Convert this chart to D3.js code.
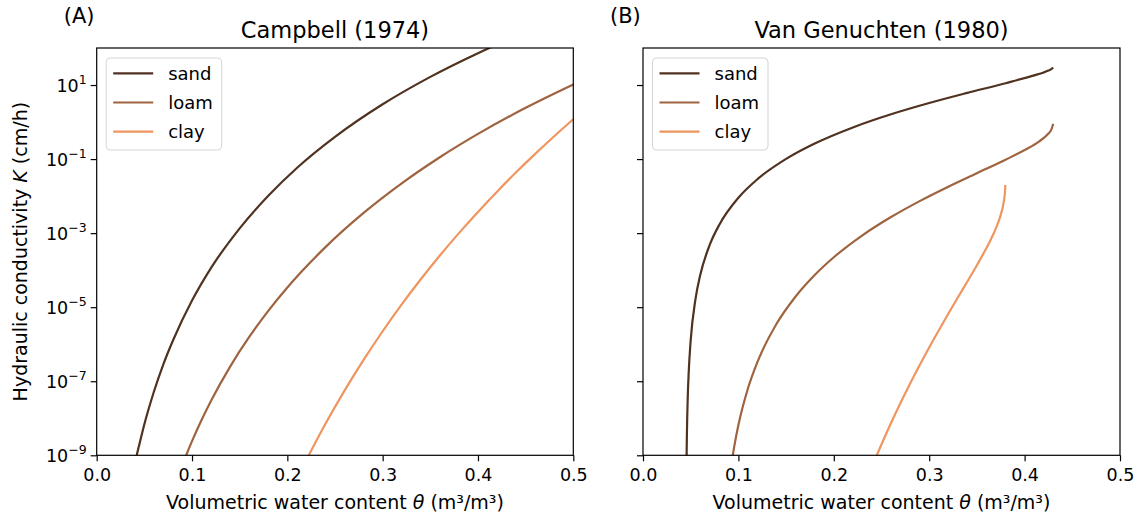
<!DOCTYPE html>
<html>
<head>
<meta charset="utf-8">
<script src="https://cdn.jsdelivr.net/npm/d3@7"></script>
<style>
  body { margin: 0; background: #fff; }
  svg { display: block; font-family: "DejaVu Sans", sans-serif; }
</style>
</head>
<body>
<svg id="chart" width="1145" height="517"></svg>
<script>
// ---- Data: volumetric water content (m3/m3) and hydraulic conductivity (cm/h) ----
const soils = ["sand", "loam", "clay"];

// Campbell (1974)
const campbellSandTheta = [0.040, 0.042, 0.045, 0.050, 0.060, 0.070, 0.080, 0.100, 0.120, 0.150, 0.180, 0.210, 0.250, 0.300, 0.350, 0.400, 0.430];
const campbellSandK     = [5.8e-10, 1.0e-9, 2.1e-9, 6.9e-9, 5.2e-8, 2.9e-7, 1.26e-6, 1.51e-5, 1.15e-4, 1.35e-3, 1.02e-2, 5.75e-2, 0.398, 3.02, 16.6, 72.4, 162];

const campbellLoamTheta = [0.090, 0.0938, 0.100, 0.110, 0.120, 0.140, 0.160, 0.180, 0.200, 0.240, 0.280, 0.320, 0.360, 0.400, 0.450, 0.500];
const campbellLoamK     = [5.65e-10, 1.0e-9, 2.42e-9, 9.0e-9, 2.98e-8, 2.49e-7, 1.57e-6, 7.96e-6, 3.40e-5, 4.19e-4, 3.51e-3, 2.21e-2, 0.112, 0.478, 2.42, 10.35];

const campbellClayTheta = [0.220, 0.2225, 0.240, 0.260, 0.280, 0.300, 0.320, 0.340, 0.360, 0.380, 0.400, 0.420, 0.440, 0.460, 0.480, 0.500];
const campbellClayK     = [7.5e-10, 1.0e-9, 7.1e-9, 5.6e-8, 3.78e-7, 2.24e-6, 1.19e-5, 5.67e-5, 2.48e-4, 1.0e-3, 3.75e-3, 1.32e-2, 4.39e-2, 0.138, 0.414, 1.19];

// Van Genuchten (1980)
const vgSandTheta = [0.0455, 0.0457, 0.046, 0.047, 0.048, 0.050, 0.055, 0.060, 0.070, 0.080, 0.100, 0.120, 0.150, 0.180, 0.220, 0.260, 0.300, 0.340, 0.380, 0.410, 0.420, 0.425, 0.428, 0.430];
const vgSandK     = [2.6e-10, 9.0e-10, 3.4e-9, 4.4e-8, 1.95e-7, 1.29e-6, 1.65e-5, 7.36e-5, 4.87e-4, 1.69e-3, 9.04e-3, 2.87e-2, 0.101, 0.263, 0.716, 1.62, 3.26, 6.13, 11.2, 18.2, 21.9, 24.6, 26.8, 29.7];

const vgLoamTheta = [0.0935, 0.094, 0.096, 0.100, 0.110, 0.120, 0.140, 0.160, 0.180, 0.200, 0.230, 0.260, 0.290, 0.320, 0.350, 0.380, 0.400, 0.415, 0.425, 0.428, 0.430];
const vgLoamK     = [7.8e-10, 9.5e-10, 1.94e-9, 6.55e-9, 6.37e-8, 3.33e-7, 3.56e-6, 1.95e-5, 7.41e-5, 2.23e-4, 8.73e-4, 2.72e-3, 7.33e-3, 1.80e-2, 4.16e-2, 9.62e-2, 0.175, 0.298, 0.489, 0.622, 0.90];

const vgClayTheta = [0.243, 0.245, 0.260, 0.280, 0.300, 0.3113, 0.320, 0.330, 0.340, 0.350, 0.360, 0.365, 0.370, 0.375, 0.3777, 0.379, 0.3797, 0.3798];
const vgClayK     = [7.5e-10, 9.9e-10, 7.45e-9, 8.69e-8, 8.2e-7, 2.71e-6, 6.64e-6, 1.82e-5, 4.93e-5, 1.36e-4, 3.95e-4, 7.08e-4, 1.37e-3, 3.12e-3, 5.97e-3, 9.9e-3, 1.69e-2, 2.0e-2];

// Axis ticks
const xTicks = [0.0, 0.1, 0.2, 0.3, 0.4, 0.5];
const yTickExponents = [-9, -7, -5, -3, -1, 1];

// ---- Styling ----
const soilColors = { sand: "#503220", loam: "#9f643f", clay: "#ef955f" };
const pair = (t, k) => t.map((v, i) => [v, k[i]]);

const panels = [
  {
    letter: "(A)", title: "Campbell (1974)", left: 96.7, right: 573.3, yLabels: true,
    series: { sand: pair(campbellSandTheta, campbellSandK), loam: pair(campbellLoamTheta, campbellLoamK), clay: pair(campbellClayTheta, campbellClayK) }
  },
  {
    letter: "(B)", title: "Van Genuchten (1980)", left: 643, right: 1120, yLabels: false,
    series: { sand: pair(vgSandTheta, vgSandK), loam: pair(vgLoamTheta, vgLoamK), clay: pair(vgClayTheta, vgClayK) }
  }
];

const plotTop = 48, plotBottom = 455.3;
const svg = d3.select("#chart");
svg.append("rect").attr("width", 1145).attr("height", 517).attr("fill", "#fff");

const y = d3.scaleLog().domain([1e-9, 1e2]).range([plotBottom, plotTop]);

panels.forEach((p, pi) => {
  const x = d3.scaleLinear().domain([0, 0.5]).range([p.left, p.right]);
  const g = svg.append("g");
  const clipId = "clip" + pi;
  svg.append("clipPath").attr("id", clipId)
    .append("rect").attr("x", p.left).attr("y", plotTop)
    .attr("width", p.right - p.left).attr("height", plotBottom - plotTop);

  // curves
  const line = d3.line().x(d => x(d[0])).y(d => y(d[1])).curve(d3.curveMonotoneX);
  const curves = g.append("g").attr("clip-path", `url(#${clipId})`);
  soils.forEach(s => {
    curves.append("path").datum(p.series[s])
      .attr("d", line).attr("fill", "none")
      .attr("stroke", soilColors[s]).attr("stroke-width", 2.2)
      .attr("stroke-linejoin", "round").attr("stroke-linecap", "butt");
  });

  // x axis
  const xAxis = g.append("g").attr("transform", `translate(0,${plotBottom})`)
    .call(d3.axisBottom(x).tickValues(xTicks).tickSize(6).tickPadding(7).tickFormat(d3.format(".1f")));
  xAxis.select(".domain").remove();
  xAxis.selectAll(".tick line").attr("stroke", "#000").attr("stroke-width", 1.2);
  xAxis.selectAll(".tick text").attr("font-size", 17.5).attr("fill", "#000")
    .attr("font-family", "DejaVu Sans, sans-serif");

  // y axis
  const yAxis = g.append("g").attr("transform", `translate(${p.left},0)`)
    .call(d3.axisLeft(y).tickValues(yTickExponents.map(e => Math.pow(10, e))).tickSize(6).tickFormat(() => ""));
  yAxis.select(".domain").remove();
  yAxis.selectAll(".tick line").attr("stroke", "#000").attr("stroke-width", 1.2);
  if (p.yLabels) {
    yTickExponents.forEach(e => {
      const t = g.append("text").attr("x", p.left - 10).attr("y", y(Math.pow(10, e)) + 6.5)
        .attr("text-anchor", "end").attr("font-size", 17.5).attr("fill", "#000");
      t.append("tspan").text("10");
      t.append("tspan").attr("font-size", 12.5).attr("dy", -8).text(e < 0 ? "\u2212" + (-e) : String(e));
    });
  }

  // frame
  g.append("rect").attr("x", p.left).attr("y", plotTop)
    .attr("width", p.right - p.left).attr("height", plotBottom - plotTop)
    .attr("fill", "none").attr("stroke", "#000").attr("stroke-width", 1.2);

  const cx = (p.left + p.right) / 2;
  // title and panel letter
  g.append("text").attr("x", cx).attr("y", 37.5).attr("text-anchor", "middle")
    .attr("font-size", 22.5).attr("fill", "#000").text(p.title);
  g.append("text").attr("x", p.left - 33).attr("y", 23).attr("font-size", 21)
    .attr("fill", "#000").text(p.letter);

  // x label
  const xl = g.append("text").attr("x", cx).attr("y", 509).attr("text-anchor", "middle")
    .attr("font-size", 19).attr("fill", "#000");
  xl.append("tspan").text("Volumetric water content ");
  xl.append("tspan").attr("font-style", "italic").text("\u03b8");
  xl.append("tspan").text(" (m\u00b3/m\u00b3)");

  // legend
  const lx = p.left + 9.5, ly = 58;
  const legend = g.append("g");
  legend.append("rect").attr("x", lx).attr("y", ly).attr("width", 115.5).attr("height", 92)
    .attr("rx", 4).attr("fill", "#fff").attr("fill-opacity", 0.8)
    .attr("stroke", "#d5d5d5").attr("stroke-width", 1);
  soils.forEach((s, i) => {
    const yy = ly + 15.3 + i * 29.2;
    legend.append("line").attr("x1", lx + 7).attr("x2", lx + 47).attr("y1", yy).attr("y2", yy)
      .attr("stroke", soilColors[s]).attr("stroke-width", 2.2);
    legend.append("text").attr("x", lx + 62).attr("y", yy + 6.5).attr("font-size", 18)
      .attr("fill", "#000").text(s);
  });
});

// y label (shared, left)
const ylab = svg.append("text").attr("transform", `translate(27,${(plotTop + plotBottom) / 2}) rotate(-90)`)
  .attr("text-anchor", "middle").attr("font-size", 19).attr("fill", "#000");
ylab.append("tspan").text("Hydraulic conductivity ");
ylab.append("tspan").attr("font-style", "italic").text("K");
ylab.append("tspan").text(" (cm/h)");
</script>
</body>
</html>
